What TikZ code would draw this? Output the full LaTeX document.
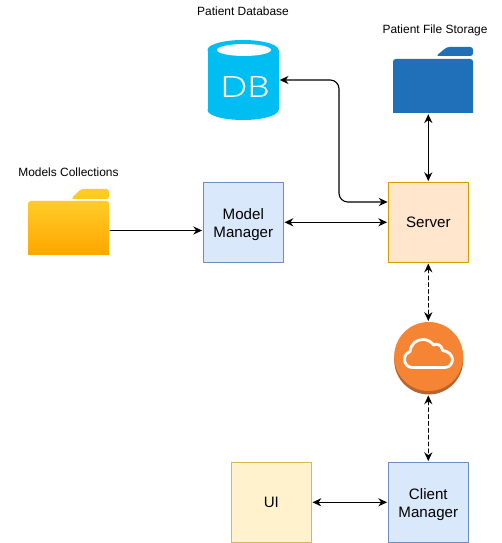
\documentclass[tikz,border=0pt]{standalone}
\usepackage{fontspec}
\usetikzlibrary{arrows.meta}
\setmainfont{Liberation Sans}
\newfontfamily\dbfont[FakeBold=0.5]{Lato Light}
\definecolor{dbblue}{HTML}{00BEF2}
\definecolor{fileblue}{HTML}{1F70B8}
\definecolor{cloudorange}{HTML}{F58534}
\definecolor{clouddark}{HTML}{B5652E}
\definecolor{foldertop}{HTML}{FFCD28}
\definecolor{folderbottom}{HTML}{FFA500}
\tikzset{
	unit/.style={draw,line width=0.6pt,minimum size=1.6cm,inner sep=0pt,outer sep=0.7pt,align=center,font=\fontsize{8.6}{10.2}\selectfont},
	bluebox/.style={unit,draw={rgb,255:red,108;green,142;blue,191},fill={rgb,255:red,218;green,232;blue,252}},
	orangebox/.style={unit,draw={rgb,255:red,215;green,155;blue,0},fill={rgb,255:red,255;green,230;blue,204}},
	yellowbox/.style={unit,draw={rgb,255:red,214;green,182;blue,86},fill={rgb,255:red,255;green,242;blue,204}},
	icon/.style={inner sep=0pt,outer sep=0.7pt},
	caption/.style={inner sep=0pt,font=\fontsize{6.8}{8}\selectfont},
	link/.style={<->,line width=0.65pt}
}
\begin{document}
\begin{tikzpicture}[line join=round,line cap=round,>={Stealth[length=5pt,width=4.6pt]},x=0.02cm,y=-0.02cm]
	\useasboundingbox (0,0) rectangle (501,543);
	% boxes
	\node[bluebox] (manager) at (243.3,222.3) {\rule{0pt}{8.4pt}Model\\Manager};
	\node[orangebox] (server) at (428.3,222.3) {Server};
	\node[bluebox] (client) at (428.3,502.3) {\rule{0pt}{8.4pt}Client\\Manager};
	\node[yellowbox] (ui) at (271.3,502.3) {UI};
	% database
	\fill[dbblue] (243,50) ellipse (35.5 and 10);
	\fill[dbblue] (243,110) ellipse (35.5 and 10);
	\fill[dbblue] (207.5,50) rectangle (278.5,110);
	\fill[white] (244,50) ellipse (27 and 6);
	\node[icon,minimum width=1.42cm,minimum height=0.6cm] (db) at (243,80) {};
	\node[inner sep=0pt,text=white,xscale=1.22,font=\dbfont\fontsize{16.5}{16.5}\selectfont] (dbtext) at (245,86.5) {DB};
	% file storage folder
	\fill[fileblue,rounded corners=1.5pt] (436,56) -- (447,47) -- (473,47) -- (473,56) -- cycle;
	\fill[fileblue,rounded corners=1.5pt] (393,113) -- (393,59) -- (473,59) [sharp corners] -- (473,113) -- cycle;
	\node[icon,minimum width=1.6cm,minimum height=1.32cm] (storage) at (433,80) {};
	% models folder
	\shade[top color=foldertop,bottom color=foldertop!85!folderbottom,rounded corners=1.5pt] (71,199) -- (81,189) -- (109,189) -- (109,199) -- cycle;
	\shade[top color=foldertop,bottom color=folderbottom,rounded corners=1.5pt] (28,255) -- (28,201) -- (109,201) [sharp corners] -- (109,255) -- cycle;
	\node[icon,minimum width=1.62cm,minimum height=1cm] (models) at (68.5,230.5) {};
	% cloud
	\fill[clouddark] (428.7,360) circle (34.5);
	\fill[cloudorange] (428.7,356.5) circle (34.5);
	\draw[white,line width=1.6pt] (412,367.5) .. controls (407,367.5) and (404.5,363) .. (404.5,359.5) .. controls (404.5,355) and (407,352.5) .. (410,351.5) .. controls (411,344) and (416,339.5) .. (423,339.5) .. controls (427,339.5) and (431,341.5) .. (433.5,345) .. controls (437,343) and (442,345) .. (442.5,350.5) .. controls (448,351) and (452.5,355) .. (452.5,359.5) .. controls (452.5,364) and (449,367.5) .. (445,367.5) -- cycle;
	\node[icon,minimum size=1.44cm,circle] (cloud) at (428.3,358.2) {};
	% labels
	\node[caption] (dblabel) at (243,11) {Patient Database};
	\node[caption] (storagelabel) at (435,30.5) {Patient File Storage};
	\node[caption] (modelslabel) at (68.5,172.5) {Models Collections};
	% connectors
	\coordinate (B) at (339,141);
	\coordinate (R) at (387.6,202);
	\draw[link,rounded corners=5pt] (db.east) -| (B) |- (R);
	\draw[link] (storage.south -| server.north) -- (server.north);
	\draw[->,line width=0.65pt] (models.east) -- (manager.west |- models.east);
	\draw[link] (manager) -- (server);
	\draw[link] (ui) -- (client);
	\draw[link,dash pattern=on 2.2pt off 1.7pt] (server.south) -- (cloud.north);
	\draw[link,dash pattern=on 2.2pt off 1.7pt] (cloud.south) -- (client.north);
\end{tikzpicture}
\end{document}
